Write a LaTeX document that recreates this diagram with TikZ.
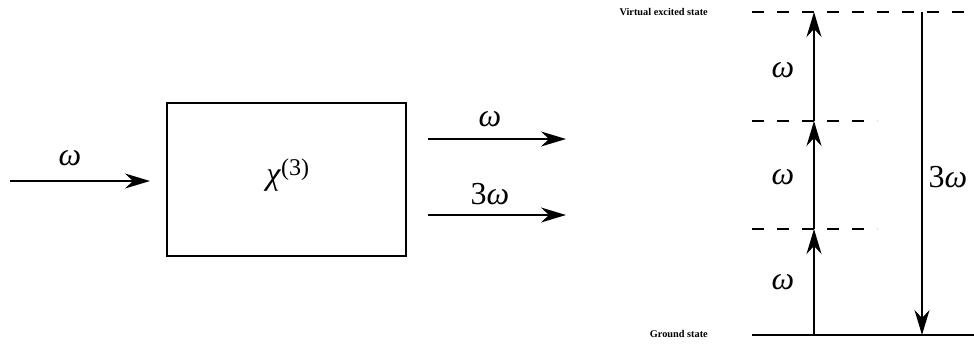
\documentclass[tikz,border=0pt]{standalone}
\usepackage{fontspec}
\setmainfont{Liberation Serif}
\usetikzlibrary{arrows.meta}
\begin{document}
\begin{tikzpicture}[x=1pt,y=-1pt,
  line/.style={line width=1.4pt},
  arr/.style={line width=1.4pt,-{Stealth[length=25pt,width=15pt,inset=8pt]}},
  lev/.style={line width=1.4pt,dash pattern=on 12pt off 13pt},
  lab/.style={font=\fontsize{32}{34}\selectfont\itshape, inner sep=0pt},
  st/.style={font=\fontsize{10.3}{12}\selectfont\bfseries, anchor=east, inner sep=0pt}]
\useasboundingbox (0,0) rectangle (974,349);
% left part
\node[draw, line width=1.4pt, minimum width=239pt, minimum height=153pt, inner sep=0pt] (box) at (286.5,179.5) {};
\node[font=\fontsize{32}{34}\selectfont, inner sep=0pt] (chi) at (288,175) {\textit{χ}\textsuperscript{\fontsize{24}{26}\selectfont(3)}};
\coordinate (inS) at (10,181);
\coordinate (inE) at (150,181);
\draw[arr] (inS) -- (inE);
\node[lab] (w0) at (70,158) {ω};
\coordinate (o1S) at (428,139);
\coordinate (o1E) at (566,139);
\coordinate (o2S) at (428,215);
\coordinate (o2E) at (566,215);
\draw[arr] (o1S) -- (o1E);
\draw[arr] (o2S) -- (o2E);
\node[lab] (w1) at (490,119) {ω};
\node[lab] (w2) at (490,194) {{\upshape 3}ω};
% right part: levels
\coordinate (L3a) at (752,12);  \coordinate (L3b) at (974,12);
\coordinate (L2a) at (752,121); \coordinate (L2b) at (877,121);
\coordinate (L1a) at (752,229); \coordinate (L1b) at (877,229);
\coordinate (L0a) at (752,335); \coordinate (L0b) at (974,335);
\draw[lev] (L3a) -- (L3b);
\draw[lev] (L2a) -- (L2b);
\draw[lev] (L1a) -- (L1b);
\draw[line] (L0a) -- (L0b);
\node[st] (ves) at (708,12) {Virtual excited state};
\node[st] (gs) at (708,334) {Ground state};
\coordinate (u0) at (814,335);
\coordinate (u1) at (814,229);
\coordinate (u2) at (814,121);
\coordinate (u3) at (814,12);
\draw[arr] (u0) -- (u1);
\draw[arr] (u1) -- (u2);
\draw[arr] (u2) -- (u3);
\coordinate (d0) at (922,12);
\coordinate (d1) at (922,335);
\draw[arr] (d0) -- (d1);
\node[lab] (wa) at (783,70) {ω};
\node[lab] (wb) at (783,177) {ω};
\node[lab] (wc) at (783,282) {ω};
\node[lab] (w3) at (948,177) {{\upshape 3}ω};
\end{tikzpicture}
\end{document}
